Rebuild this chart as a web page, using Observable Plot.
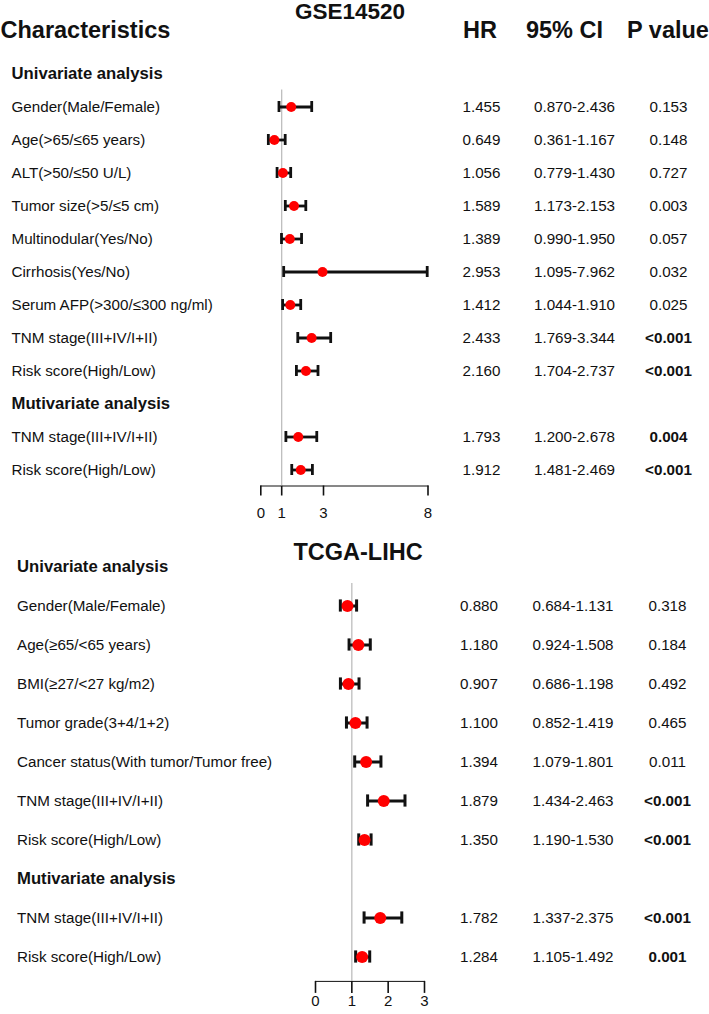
<!DOCTYPE html>
<html>
<head>
<meta charset="utf-8">
<script src="https://cdn.jsdelivr.net/npm/d3@7"></script>
<script src="https://cdn.jsdelivr.net/npm/@observablehq/plot@0.6"></script>
<style>
  html, body { margin: 0; padding: 0; background: #fff; }
  #chart svg { display: block; }
  #chart [aria-label^="x-axis"] path,
  #chart [aria-label^="x-axis"] line { stroke-width: 1.6px !important; }
  #chart [aria-label^="x-axis"] text,
  #chart [aria-label^="x-axis"] { font-size: 15px !important; }
</style>
</head>
<body>
<div id="chart"></div>
<script>
// ---------- GSE14520 ----------
const gseTitle = "GSE14520";
const gseSections = ["Univariate analysis", "Mutivariate analysis"];
const gseLabels = [
  "Gender(Male/Female)", "Age(>65/≤65 years)", "ALT(>50/≤50 U/L)", "Tumor size(>5/≤5 cm)",
  "Multinodular(Yes/No)", "Cirrhosis(Yes/No)", "Serum AFP(>300/≤300 ng/ml)",
  "TNM stage(III+IV/I+II)", "Risk score(High/Low)",
  "TNM stage(III+IV/I+II)", "Risk score(High/Low)"
];
const gseSectionOf = [0, 0, 0, 0, 0, 0, 0, 0, 0, 1, 1];
const gseHR    = [1.455, 0.649, 1.056, 1.589, 1.389, 2.953, 1.412, 2.433, 2.160, 1.793, 1.912];
const gseLower = [0.870, 0.361, 0.779, 1.173, 0.990, 1.095, 1.044, 1.769, 1.704, 1.200, 1.481];
const gseUpper = [2.436, 1.167, 1.430, 2.153, 1.950, 7.962, 1.910, 3.344, 2.737, 2.678, 2.469];
const gseP     = ["0.153", "0.148", "0.727", "0.003", "0.057", "0.032", "0.025", "<0.001", "<0.001", "0.004", "<0.001"];
const gseBold  = [false, false, false, false, false, false, false, true, true, true, true];
const gseTicks = [0, 1, 3, 8];
const gseDomain = [0, 8];

// ---------- TCGA-LIHC ----------
const tcgaTitle = "TCGA-LIHC";
const tcgaSections = ["Univariate analysis", "Mutivariate analysis"];
const tcgaLabels = [
  "Gender(Male/Female)", "Age(≥65/<65 years)", "BMI(≥27/<27 kg/m2)", "Tumor grade(3+4/1+2)",
  "Cancer status(With tumor/Tumor free)", "TNM stage(III+IV/I+II)", "Risk score(High/Low)",
  "TNM stage(III+IV/I+II)", "Risk score(High/Low)"
];
const tcgaSectionOf = [0, 0, 0, 0, 0, 0, 0, 1, 1];
const tcgaHR    = [0.880, 1.180, 0.907, 1.100, 1.394, 1.879, 1.350, 1.782, 1.284];
const tcgaLower = [0.684, 0.924, 0.686, 0.852, 1.079, 1.434, 1.190, 1.337, 1.105];
const tcgaUpper = [1.131, 1.508, 1.198, 1.419, 1.801, 2.463, 1.530, 2.375, 1.492];
const tcgaP     = ["0.318", "0.184", "0.492", "0.465", "0.011", "<0.001", "<0.001", "<0.001", "0.001"];
const tcgaBold  = [false, false, false, false, false, true, true, true, true];
const tcgaTicks = [0, 1, 2, 3];
const tcgaDomain = [0, 3];

const headerLabels = ["Characteristics", "HR", "95% CI", "P value"];
const refValue = 1;

// ---------- helpers ----------
const W = 709;
const FONT = "'Liberation Sans', Arial, Helvetica, sans-serif";
const INK = "#111";
const fmt = d3.format(".3f");

function buildRows(sections, labels, sectionOf, hr, lo, hi, p, bold) {
  const rows = [];
  sections.forEach((s, si) => {
    rows.push({key: "s" + si, label: s, header: true});
    labels.forEach((l, i) => {
      if (sectionOf[i] === si) rows.push({key: "r" + i, label: l, hr: hr[i], lo: lo[i], hi: hi[i], p: p[i], bold: bold[i]});
    });
  });
  return rows;
}

function forest(o) {
  const rows = o.rows;
  const data = rows.filter(d => !d.header);
  const heads = rows.filter(d => d.header);
  const frameL = o.marginLeft, frameR = W - o.marginRight;
  const frameC = (frameL + frameR) / 2;
  const capInset = (o.step - o.cap) / 2;
  const height = o.marginTop + o.step * rows.length + o.marginBottom;
  const marks = [
    Plot.ruleX([refValue], {stroke: "#b8b8b8", strokeWidth: 1.2, insetTop: o.step}),
    Plot.ruleY(data, {y: "key", x1: "lo", x2: "hi", stroke: INK, strokeWidth: o.sw}),
    Plot.tickX(data, {y: "key", x: "lo", stroke: INK, strokeWidth: o.sw, insetTop: capInset, insetBottom: capInset}),
    Plot.tickX(data, {y: "key", x: "hi", stroke: INK, strokeWidth: o.sw, insetTop: capInset, insetBottom: capInset}),
    Plot.dot(data, {y: "key", x: "hr", r: o.r, fill: "#ff0000", stroke: "none"}),
    Plot.text(heads, {y: "key", text: "label", frameAnchor: "left", textAnchor: "start", lineAnchor: "middle",
      dx: o.labelX - frameL, fontSize: 16.7, fontWeight: "bold", fill: INK}),
    Plot.text(data, {y: "key", text: "label", frameAnchor: "left", textAnchor: "start", lineAnchor: "middle",
      dx: o.labelX - frameL, fontSize: 15.2, fill: INK}),
    Plot.text(data, {y: "key", text: d => fmt(d.hr), frameAnchor: "right", textAnchor: "middle", lineAnchor: "middle",
      dx: o.hrX - frameR, fontSize: 15.2, fill: INK}),
    Plot.text(data, {y: "key", text: d => fmt(d.lo) + "-" + fmt(d.hi), frameAnchor: "right", textAnchor: "middle", lineAnchor: "middle",
      dx: o.ciX - frameR, fontSize: 15.2, fill: INK}),
    Plot.text(data.filter(d => !d.bold), {y: "key", text: "p", frameAnchor: "right", textAnchor: "middle", lineAnchor: "middle",
      dx: o.pX - frameR, fontSize: 15.2, fill: INK}),
    Plot.text(data.filter(d => d.bold), {y: "key", text: "p", frameAnchor: "right", textAnchor: "middle", lineAnchor: "middle",
      dx: o.pX - frameR, fontSize: 15.2, fontWeight: "bold", fill: INK}),
    Plot.text([o.title], {frameAnchor: "top", textAnchor: "middle", lineAnchor: "middle",
      dx: o.titleX - frameC, dy: o.titleY - o.marginTop, fontSize: o.titleSize, fontWeight: "bold", fill: INK})
  ];
  if (o.showHeader) {
    const hx = [0, o.hrHeadX, o.ciHeadX, o.pHeadX];
    headerLabels.forEach((h, i) => {
      marks.push(Plot.text([h], {frameAnchor: "top-left", textAnchor: i === 0 ? "start" : "middle", lineAnchor: "middle",
        dx: hx[i] - frameL, dy: o.headY - o.marginTop, fontSize: 23.5, fontWeight: "bold", fill: INK}));
    });
  }
  return Plot.plot({
    width: W,
    height,
    marginTop: o.marginTop,
    marginBottom: o.marginBottom,
    marginLeft: o.marginLeft,
    marginRight: o.marginRight,
    style: {fontFamily: FONT, fontSize: "15px", color: INK, background: "#fff", overflow: "visible"},
    x: {domain: o.domain, ticks: o.ticks, tickFormat: d => String(d), tickSize: o.tickSize, tickPadding: o.tickPadding, line: true, label: null},
    y: {type: "band", domain: rows.map(d => d.key), padding: 0, axis: null},
    marks
  });
}

const chart = document.getElementById("chart");

chart.append(forest({
  rows: buildRows(gseSections, gseLabels, gseSectionOf, gseHR, gseLower, gseUpper, gseP, gseBold),
  title: gseTitle, titleSize: 22.5, domain: gseDomain, ticks: gseTicks,
  marginTop: 56.5, marginBottom: 39.5, marginLeft: 260.3, marginRight: 281.5,
  step: 33, cap: 11, r: 5, sw: 2.8,
  tickSize: 10, tickPadding: 11,
  labelX: 11, hrX: 481, ciX: 574, pX: 668,
  titleX: 349.5, titleY: 11.5,
  showHeader: true, headY: 29.5, hrHeadX: 479.5, ciHeadX: 564, pHeadX: 667.5
}));

chart.append(forest({
  rows: buildRows(tcgaSections, tcgaLabels, tcgaSectionOf, tcgaHR, tcgaLower, tcgaUpper, tcgaP, tcgaBold),
  title: tcgaTitle, titleSize: 23.5, domain: tcgaDomain, ticks: tcgaTicks,
  marginTop: 18.1, marginBottom: 33.1, marginLeft: 315, marginRight: 285,
  step: 39.8, cap: 13, r: 6, sw: 3,
  tickSize: 12, tickPadding: 2,
  labelX: 16.5, hrX: 478.5, ciX: 572.5, pX: 667,
  titleX: 357.5, titleY: 27,
  showHeader: false
}));
</script>
</body>
</html>
